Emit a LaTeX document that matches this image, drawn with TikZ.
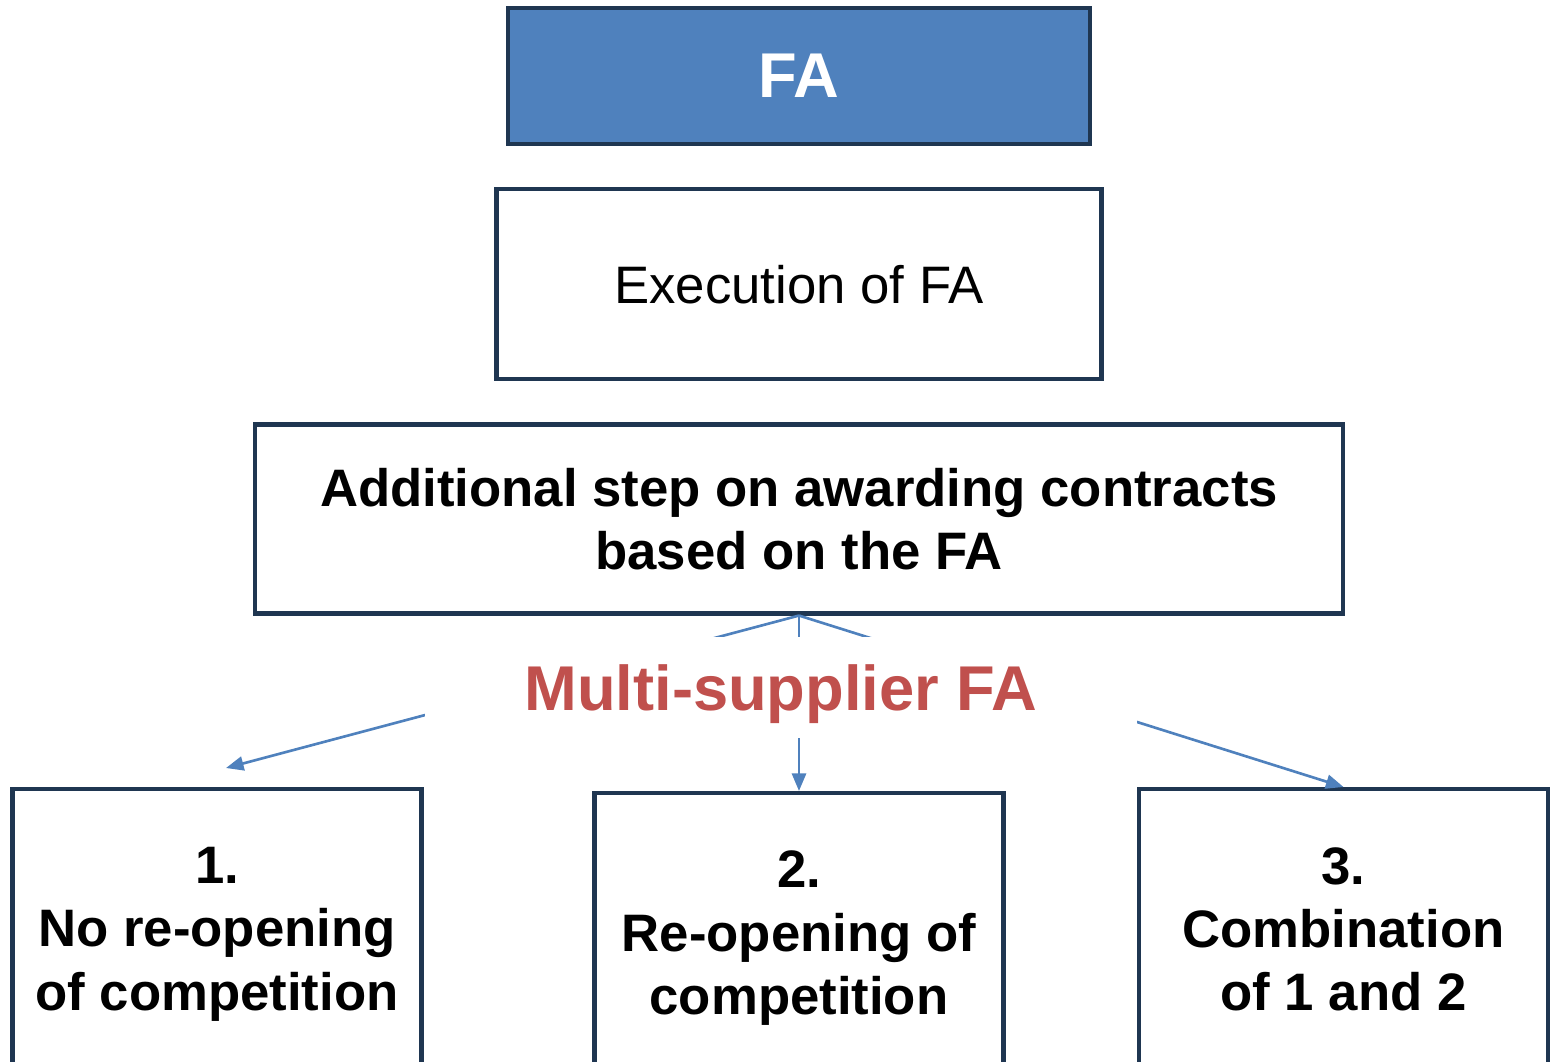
\documentclass[tikz,border=0pt]{standalone}
\usepackage{fontspec}
\setmainfont{Liberation Sans}
\usepackage{tikz}
\usetikzlibrary{arrows.meta,positioning}
\definecolor{fablue}{HTML}{4F81BD}
\definecolor{faline}{HTML}{1F3651}
\definecolor{fared}{HTML}{C0504D}
\begin{document}
\begin{tikzpicture}[>={Triangle[length=5pt,width=4pt]},node distance=0.41cm,
  main box/.style={rectangle,draw=faline,line width=1.2pt,inner sep=0pt,align=center,font=\fontsize{15}{18}\selectfont},
  option box/.style={main box,anchor=north,minimum width=4.09cm,minimum height=2.9cm,font=\fontsize{15}{18}\selectfont\bfseries},
  link/.style={->,draw=fablue,line width=0.75pt}]
    \useasboundingbox (0,0) rectangle (15.55,-10.62);
    \node[main box,fill=fablue,text=white,minimum width=5.82cm,minimum height=1.36cm,font=\fontsize{18}{22}\selectfont\bfseries](FA) at (7.99,-0.76){FA};
    \node[main box,below=of FA,minimum width=6.05cm,minimum height=1.9cm](exec){Execution of FA};
    \node[main box,below=of exec,minimum width=10.88cm,minimum height=1.89cm,font=\fontsize{15}{18}\selectfont\bfseries](add){Additional step on awarding contracts\\based on the FA};
    \node[option box](noreopen) at (2.17,-7.87){1.\\No re-opening\\of competition};
    \node[option box](reopen) at (7.99,-7.91){2.\\Re-opening of\\competition};
    \node[option box,minimum height=2.8cm](combo) at (13.435,-7.87){3.\\Combination\\of 1 and 2};
    \coordinate (notip) at (2.26,-7.68);
    \draw[link] (add.south) -- (notip);
    \draw[link] (add.south) -- (reopen.north);
    \draw[link] (add.south) -- (combo.north);
    \node[fill=white,minimum width=7.12cm,minimum height=1.01cm,text depth=0pt,text=fared,font=\fontsize{18}{22}\selectfont\bfseries](multi) at (7.81,-6.875){Multi-supplier FA};
\end{tikzpicture}
\end{document}
